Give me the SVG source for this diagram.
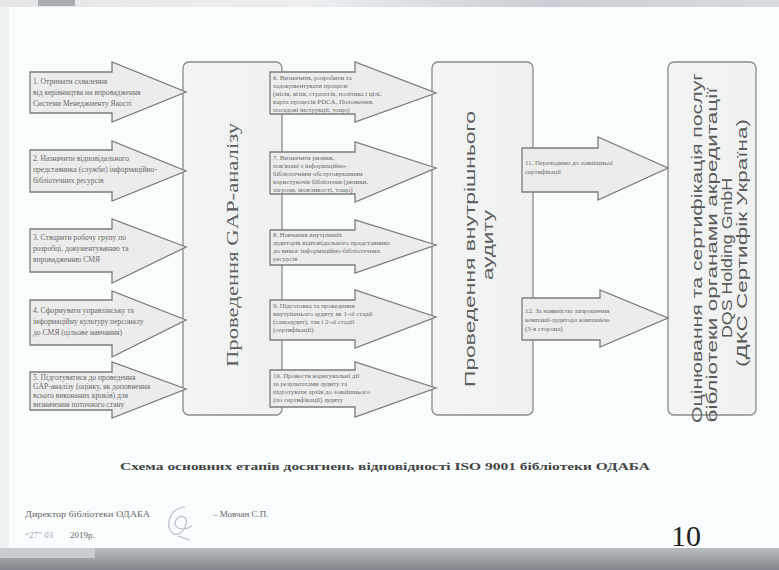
<svg xmlns="http://www.w3.org/2000/svg" width="779" height="570" viewBox="0 0 779 570">
<defs>
<linearGradient id="topband" x1="0" y1="0" x2="1" y2="0">
<stop offset="0" stop-color="#e4e6e8"/><stop offset="0.4" stop-color="#eceef0"/><stop offset="0.7" stop-color="#c9cfd4"/><stop offset="1" stop-color="#d7dce0"/>
</linearGradient>
<linearGradient id="botband" x1="0" y1="0" x2="0" y2="1">
<stop offset="0" stop-color="#b9bec2"/><stop offset="1" stop-color="#80868b"/>
</linearGradient>
<linearGradient id="boxfill" x1="0" y1="0" x2="1" y2="0">
<stop offset="0" stop-color="#f3f5f5"/><stop offset="1" stop-color="#eff1f1"/>
</linearGradient>
</defs>
<style>
.box{fill:url(#boxfill);stroke:#8a8a8a;stroke-width:1.3}
.arrow{fill:#ececec;stroke:#7c7c7c;stroke-width:1.3}
.small{font-family:"Liberation Serif","DejaVu Serif",serif;font-size:7.6px;fill:#6a6a6a}
.mid{font-family:"Liberation Serif","DejaVu Serif",serif;font-size:6.8px;fill:#6a6a6a}
.big{font-family:"Liberation Serif","DejaVu Serif",serif;font-size:17px;fill:#5e5e5e;text-anchor:middle}
.bigs{font-family:"Liberation Sans","DejaVu Sans",sans-serif;font-size:15.5px;fill:#5e5e5e;text-anchor:middle}
.fin{font-family:"Liberation Sans","DejaVu Sans",sans-serif;font-size:14.5px;fill:#5a5a5a;text-anchor:middle}
.foot{font-family:"Liberation Serif","DejaVu Serif",serif;font-size:9px;fill:#666}
</style>
<rect x="0" y="0" width="779" height="570" fill="#f9fcfc"/>
<rect x="0" y="0" width="779" height="7" fill="url(#topband)"/>
<rect x="38" y="0" width="37" height="6" fill="#a9adb1"/>
<rect x="0" y="7" width="9" height="541" fill="#eef1f1"/>
<rect x="0" y="548" width="779" height="22" fill="url(#botband)"/>
<rect x="0" y="548" width="95" height="10" fill="#c9cdd0"/>

<g id="gap">
<rect class="box" x="183" y="62" width="99" height="353" rx="6"/>
<text class="big" transform="translate(238,245) rotate(-90)" textLength="244" lengthAdjust="spacingAndGlyphs">Проведення GAP-аналізу</text>
</g>
<g id="audit">
<rect class="box" x="432" y="62" width="101" height="353" rx="6"/>
<text class="bigs" transform="translate(475,249) rotate(-90)" textLength="276" lengthAdjust="spacingAndGlyphs">Проведення внутрішнього</text>
<text class="bigs" transform="translate(493,245) rotate(-90)" textLength="70" lengthAdjust="spacingAndGlyphs">аудиту</text>
</g>
<g id="cert">
<rect class="box" x="668" y="62" width="88" height="353" rx="6"/>
<text class="fin" transform="translate(702,248) rotate(-90)" textLength="350" lengthAdjust="spacingAndGlyphs">Оцінювання та сертифікація послуг</text>
<text class="fin" transform="translate(717,255) rotate(-90)" textLength="335" lengthAdjust="spacingAndGlyphs">бібліотеки органами акредитації</text>
<text class="fin" transform="translate(732,258) rotate(-90)" textLength="160" lengthAdjust="spacingAndGlyphs">DQS Holding GmbH</text>
<text class="fin" transform="translate(747,243) rotate(-90)" textLength="248" lengthAdjust="spacingAndGlyphs">(ДКС Сертифік Україна)</text>
</g>

<g id="connectors">
<g id="a1"><path class="arrow" d="M30,72 H112 V62 L186,92 L112,122 V113 H30 Z"/>
<text class="small" x="33" y="84">1. Отримати схвалення</text>
<text class="small" x="33" y="95">від керівництва на впровадження</text>
<text class="small" x="33" y="106">Системи Менеджменту Якості</text></g>
<g id="a2"><path class="arrow" d="M30,150 H112 V141 L186,171 L112,201 V192 H30 Z"/>
<text class="small" x="33" y="161">2. Назначити відповідального</text>
<text class="small" x="33" y="172">представника (служби) інформаційно-</text>
<text class="small" x="33" y="183">бібліотечних ресурсів</text></g>
<g id="a3"><path class="arrow" d="M30,229 H112 V219 L186,247 L112,283 V272 H30 Z"/>
<text class="small" x="33" y="240">3. Створити робочу групу по</text>
<text class="small" x="33" y="251">розробці, документуванню та</text>
<text class="small" x="33" y="262">впровадженню СМЯ</text></g>
<g id="a4"><path class="arrow" d="M30,300 H112 V291 L186,320 L112,357 V345 H30 Z"/>
<text class="small" x="33" y="313">4. Сформувати управлінську та</text>
<text class="small" x="33" y="324">інформаційну культуру персоналу</text>
<text class="small" x="33" y="335">до СМЯ (цільове навчання)</text></g>
<g id="a5"><path class="arrow" d="M30,372 H112 V362 L186,389 L112,418 V410 H30 Z"/>
<text class="small" x="33" y="380">5. Підготуватися до проведення</text>
<text class="small" x="33" y="389">GAP-аналізу (оцінку, як доповнення</text>
<text class="small" x="33" y="398">всього виконаних кроків) для</text>
<text class="small" x="33" y="407">визначення поточного стану</text></g>

<g id="a6"><path class="arrow" d="M270,72 H355 V62 L436,93 L355,122 V114 H270 Z"/>
<text class="mid" x="273" y="80">6. Визначити, розробити та</text>
<text class="mid" x="273" y="88">задокументувати процеси</text>
<text class="mid" x="273" y="96">(місія, візія, стратегія, політика і цілі,</text>
<text class="mid" x="273" y="104">карта процесів PDCA, Положення,</text>
<text class="mid" x="273" y="112">посадові інструкції, тощо)</text></g>
<g id="a7"><path class="arrow" d="M270,152 H355 V142 L436,168 L355,202 V194 H270 Z"/>
<text class="mid" x="273" y="160">7. Визначити ризики,</text>
<text class="mid" x="273" y="168">пов'язані з інформаційно-</text>
<text class="mid" x="273" y="176">бібліотечним обслуговуванням</text>
<text class="mid" x="273" y="184">користувачів бібліотеки (ризики,</text>
<text class="mid" x="273" y="192">загрози, можливості, тощо)</text></g>
<g id="a8"><path class="arrow" d="M270,230 H355 V220 L436,245 L355,273 V265 H270 Z"/>
<text class="mid" x="273" y="237">8. Навчання внутрішніх</text>
<text class="mid" x="273" y="245">аудиторів відповідального представника</text>
<text class="mid" x="273" y="253">до вимог інформаційно-бібліотечних</text>
<text class="mid" x="273" y="261">ресурсів</text></g>
<g id="a9"><path class="arrow" d="M270,300 H355 V290 L436,317 L355,348 V340 H270 Z"/>
<text class="mid" x="273" y="308">9. Підготовка та проведення</text>
<text class="mid" x="273" y="316">внутрішнього аудиту як 1-ої стадії</text>
<text class="mid" x="273" y="324">(самоаудит), так і 2-ої стадії</text>
<text class="mid" x="273" y="332">(сертифікації)</text></g>
<g id="a10"><path class="arrow" d="M270,370 H355 V362 L436,388 L355,417 V407 H270 Z"/>
<text class="mid" x="273" y="378">10. Провести коригувальні дії</text>
<text class="mid" x="273" y="386">за результатами аудиту та</text>
<text class="mid" x="273" y="394">підготувати архів до зовнішнього</text>
<text class="mid" x="273" y="402">(по сертифікації) аудиту</text></g>

<g id="a11"><path class="arrow" d="M522,148 H598 V137 L668,168 L598,200 V192 H522 Z"/>
<text class="mid" x="525" y="165">11. Переходимо до зовнішньої</text>
<text class="mid" x="525" y="174">сертифікації</text></g>
<g id="a12"><path class="arrow" d="M522,298 H600 V290 L668,318 L600,347 V340 H522 Z"/>
<text class="mid" x="525" y="313">12. За наявністю запрошення</text>
<text class="mid" x="525" y="322">компанії-аудитора компанією</text>
<text class="mid" x="525" y="331">(3-я сторона)</text></g>
</g>

<text x="385" y="470" text-anchor="middle" font-family="Liberation Serif, DejaVu Serif, serif" font-weight="bold" font-size="11" fill="#444" textLength="530" lengthAdjust="spacingAndGlyphs">Схема основних етапів досягнень відповідності ISO 9001 бібліотеки ОДАБА</text>

<text class="foot" x="25" y="517" textLength="125" lengthAdjust="spacingAndGlyphs">Директор бібліотеки ОДАБА</text>
<text class="foot" x="213" y="517">– Мовчан С.П.</text>
<text class="foot" x="25" y="538"><tspan fill="#9aa4b8">“27”  03</tspan></text>
<text class="foot" x="70" y="538">2019р.</text>
<path d="M185,507 C172,508 166,520 170,530 C174,538 184,534 186,524 C188,516 180,514 176,520 C172,528 182,532 192,526 M178,536 L190,540" fill="none" stroke="#b3bccb" stroke-width="1.2"/>
<text x="671" y="546" font-family="Liberation Serif, DejaVu Serif, serif" font-size="30" fill="#222">10</text>
</svg>
